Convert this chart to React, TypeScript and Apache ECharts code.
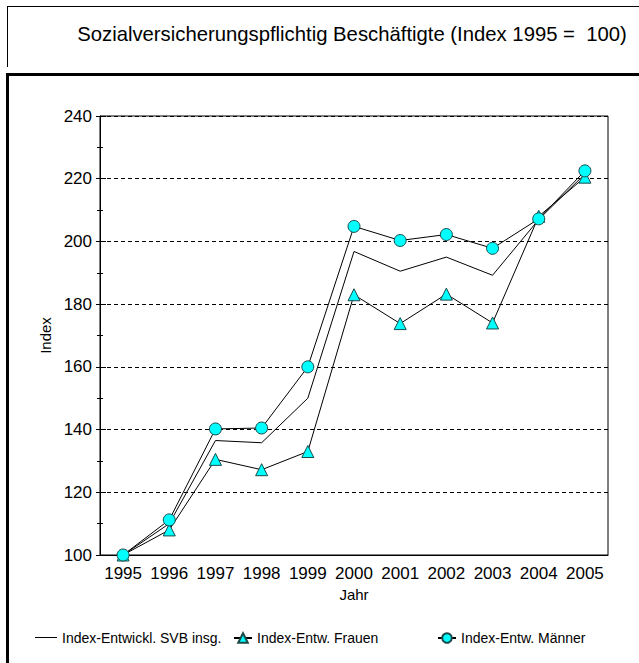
import React, { useEffect, useRef } from "react";
import * as echarts from "echarts";

const years = ["1995", "1996", "1997", "1998", "1999", "2000", "2001", "2002", "2003", "2004", "2005"];
const svbTotal = [100, 110, 136.5, 135.8, 150, 196.8, 190.5, 195, 189.2, 207, 221.5];
const frauen = [100, 108, 130.5, 127.2, 133, 183, 173.8, 183.2, 174, 208, 220.5];
const maenner = [100, 111.2, 140.2, 140.5, 160, 204.8, 200.3, 202.2, 197.8, 207.2, 222.5];
const titleText = "Sozialversicherungspflichtig Beschäftigte (Index 1995 =\u00a0 100)";
const seriesNames = ["Index-Entwickl. SVB insg.", "Index-Entw. Frauen", "Index-Entw. Männer"];

const FONT = "'Liberation Sans', Arial, sans-serif";

export default function App() {
  const ref = useRef<HTMLDivElement>(null);
  useEffect(() => {
    if (!ref.current) return;
    const chart = echarts.init(ref.current, null, { renderer: "svg" });
    const gridBox = { left: 100, top: 116, right: 31, bottom: 108 };
    const symbolStyle = { color: "#00FFFF", borderColor: "#1a4a4a", borderWidth: 1 };
    const legendText = { fontFamily: FONT, fontSize: 14, color: "#000" };
    chart.setOption({
      animation: false,
      backgroundColor: "#fff",
      textStyle: { fontFamily: FONT, color: "#000" },
      title: {
        text: titleText,
        left: 347,
        top: 19,
        textAlign: "center",
        textStyle: { fontFamily: FONT, fontSize: 20.3, fontWeight: "normal", color: "#000" },
      },
      graphic: [
        { type: "line", shape: { x1: 7, y1: 6.5, x2: 639, y2: 6.5 }, style: { stroke: "#000", lineWidth: 1 } },
        { type: "line", shape: { x1: 7.5, y1: 6, x2: 7.5, y2: 67 }, style: { stroke: "#000", lineWidth: 1 } },
        { type: "line", shape: { x1: 6, y1: 74.5, x2: 639, y2: 74.5 }, style: { stroke: "#000", lineWidth: 3 } },
        { type: "line", shape: { x1: 7.5, y1: 73, x2: 7.5, y2: 663 }, style: { stroke: "#000", lineWidth: 3 } },
      ],
      legend: [
        {
          data: [{ name: seriesNames[0], icon: "rect" }],
          left: 35,
          top: 630.5,
          padding: 0,
          itemWidth: 22,
          itemHeight: 1,
          itemGap: 4,
          textStyle: legendText,
        },
        {
          data: [seriesNames[1]],
          left: 233,
          top: 631,
          padding: 0,
          itemWidth: 18,
          itemHeight: 12,
          textStyle: legendText,
        },
        {
          data: [seriesNames[2]],
          left: 437,
          top: 631,
          padding: 0,
          itemWidth: 18,
          itemHeight: 12,
          textStyle: legendText,
        },
      ],
      grid: { ...gridBox, show: true, borderColor: "#000", borderWidth: 1, backgroundColor: "transparent" },
      xAxis: [
        {
          type: "category",
          data: years,
          boundaryGap: true,
          name: "Jahr",
          nameLocation: "middle",
          nameGap: 32,
          nameTextStyle: { fontFamily: FONT, fontSize: 15, color: "#000" },
          axisLine: { lineStyle: { color: "#000", width: 1 } },
          axisTick: { alignWithLabel: true, interval: 0, length: 7, lineStyle: { color: "#000" } },
          axisLabel: { fontFamily: FONT, fontSize: 17, color: "#000", margin: 10, interval: 0 },
          splitLine: { show: false },
        },
        {
          type: "category",
          data: years,
          boundaryGap: true,
          position: "bottom",
          axisLine: { show: false },
          axisTick: { alignWithLabel: true, interval: 0, inside: true, length: 7, lineStyle: { color: "#000" } },
          axisLabel: { show: false },
          splitLine: { show: false },
        },
      ],
      yAxis: [
        {
          type: "value",
          min: 100,
          max: 240,
          interval: 20,
          name: "Index",
          nameLocation: "middle",
          nameGap: 31,
          nameTextStyle: { fontFamily: FONT, fontSize: 15, color: "#000" },
          axisLine: { show: true, lineStyle: { color: "#000", width: 1 } },
          axisTick: { show: true, length: 4, lineStyle: { color: "#000" } },
          minorTick: { show: true, splitNumber: 2, length: 3, lineStyle: { color: "#000" } },
          axisLabel: { fontFamily: FONT, fontSize: 17, color: "#000", margin: 8 },
          splitLine: {
            show: true,
            lineStyle: { color: "#000", type: [4, 3], width: 1 },
          },
        },
        {
          type: "value",
          min: 100,
          max: 240,
          interval: 20,
          position: "left",
          axisLine: { show: false },
          axisTick: { show: true, inside: true, length: 6, lineStyle: { color: "#000" } },
          minorTick: { show: true, splitNumber: 2, length: 3, lineStyle: { color: "#000" } },
          axisLabel: { show: false },
          splitLine: { show: false },
        },
      ],
      series: [
        {
          name: seriesNames[0],
          type: "line",
          data: svbTotal,
          symbol: "none",
          lineStyle: { color: "#000", width: 1 },
          itemStyle: { color: "#000" },
        },
        {
          name: seriesNames[1],
          type: "line",
          data: frauen,
          symbol: "triangle",
          symbolSize: 12,
          lineStyle: { color: "#000", width: 1 },
          itemStyle: symbolStyle,
        },
        {
          name: seriesNames[2],
          type: "line",
          data: maenner,
          symbol: "circle",
          symbolSize: 12,
          lineStyle: { color: "#000", width: 1 },
          itemStyle: symbolStyle,
        },
      ],
    });
    return () => chart.dispose();
  }, []);
  return <div ref={ref} style={{ width: 639, height: 663, position: "absolute", left: 0, top: 0 }} />;
}
